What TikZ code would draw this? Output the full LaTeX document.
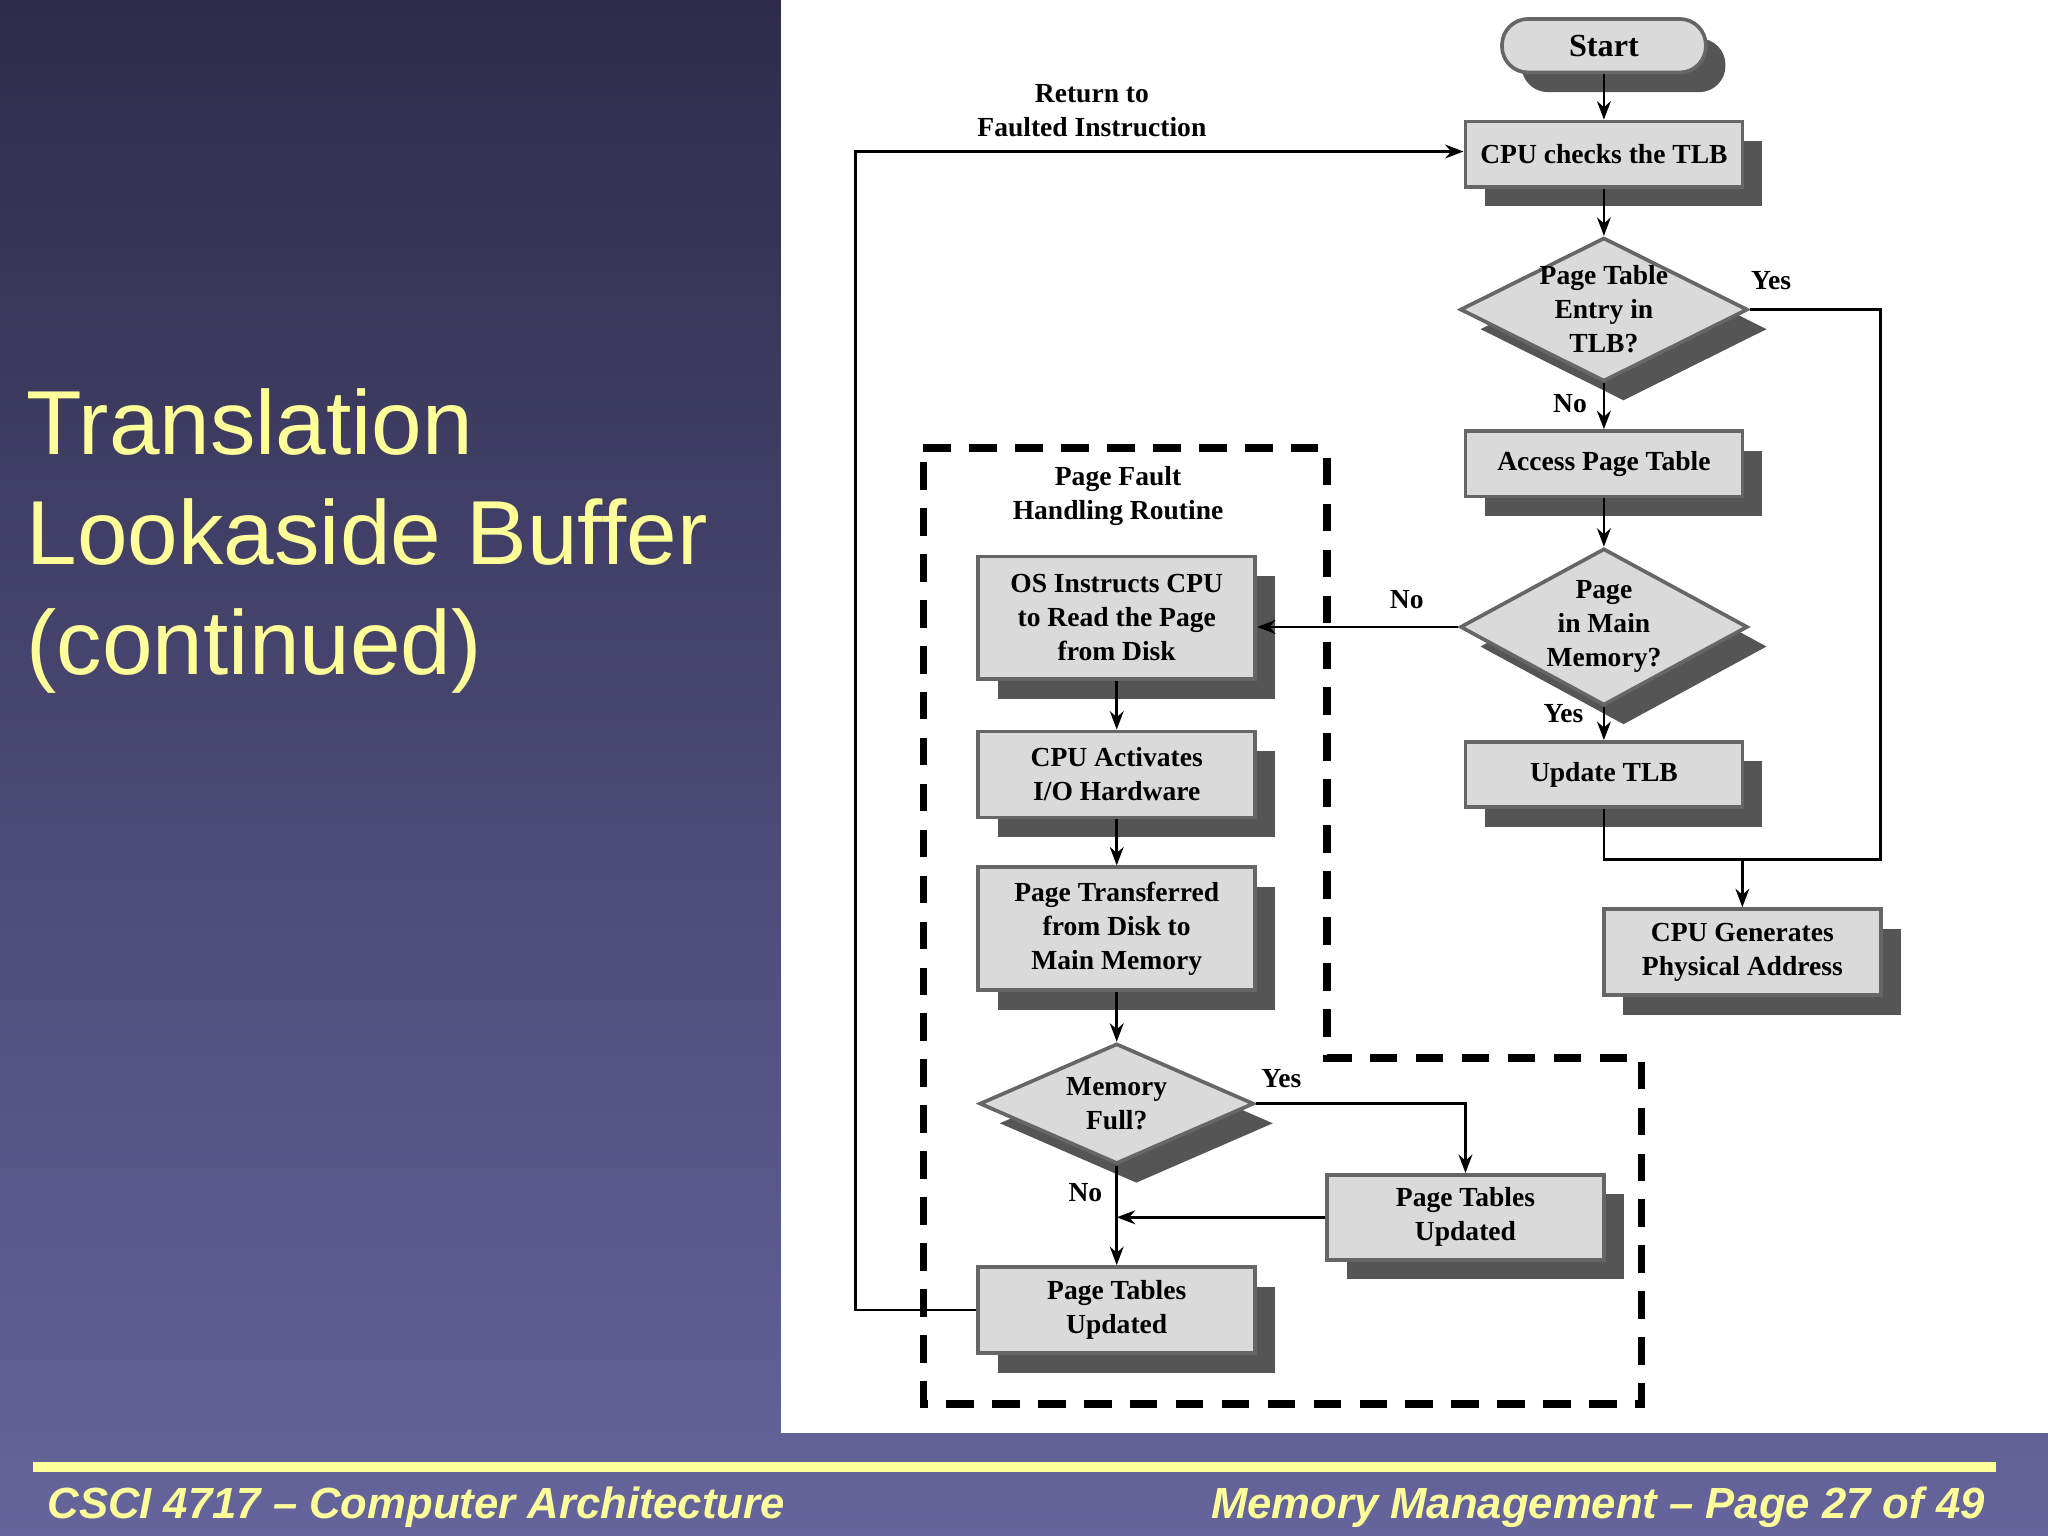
\documentclass[tikz,border=0pt]{standalone}
\usepackage{fontspec}
\setmainfont{Liberation Serif}
\newfontfamily\sans{Liberation Sans}
\usetikzlibrary{shapes.geometric,shadows,arrows.meta}
\definecolor{ttl}{HTML}{FFFF99}
\definecolor{bgtop}{HTML}{2E2C4A}
\definecolor{bgbot}{HTML}{65649C}
\definecolor{boxf}{HTML}{DADADA}
\definecolor{shd}{HTML}{555555}
\begin{document}
\begin{tikzpicture}[x=0.01cm,y=-0.01cm,
  font=\fontsize{6}{7.4}\selectfont\bfseries,
  sh/.style={drop shadow={shadow xshift=0.15cm,shadow yshift=-0.15cm,fill=shd,opacity=1}},
  box/.style={draw=gray!80!black,fill=boxf,line width=0.8pt,sh,align=center,inner sep=0pt,minimum width=2.12cm},
  dia/.style={diamond,draw=gray!80!black,fill=boxf,line width=0.8pt,sh,align=center,aspect=2,inner sep=-2.5pt},
  ar/.style={-{Stealth[length=4pt,width=3pt]},line width=0.6pt},
  ln/.style={line width=0.6pt},
  lab/.style={inner sep=1pt}]
\useasboundingbox (0,0) rectangle (1568,1176);
\shade[top color=bgtop,bottom color=bgbot] (0,0) rectangle (1568,1176);
\fill[white] (598,0) rectangle (1568,1097);
\fill[ttl] (25,1119) rectangle (1528,1127);
\node[anchor=west,text=ttl,font=\sans\fontsize{9.5}{11}\selectfont\bfseries\itshape] (f1) at (24,1154) {CSCI 4717 – Computer Architecture};
\node[anchor=east,text=ttl,font=\sans\fontsize{9.5}{11}\selectfont\bfseries\itshape] (f2) at (1532,1154) {Memory Management – Page 27 of 49};
\node[anchor=north west,text=ttl,align=left,font=\sans\fontsize{19.8}{24}\selectfont] (t) at (8,285) {Translation\\Lookaside Buffer\\(continued)};

\draw[line width=1.6pt,dash pattern=on 6pt off 4pt] (707,343)--(1016,343)--(1016,810)--(1257,810)--(1257,1075)--(707,1075)--cycle;

\node[box,rounded corners=0.2cm,minimum width=1.56cm,minimum height=0.41cm,font=\fontsize{7}{8}\selectfont\bfseries] (start) at (1228,35) {Start};
\node[box,minimum height=0.5cm] (cpu) at (1228,118) {CPU checks the TLB};
\node[dia,minimum width=2.2cm,minimum height=1.1cm] (d1) at (1228,237) {Page Table\\Entry in\\TLB?};
\node[box,minimum height=0.5cm] (acc) at (1228,355) {Access Page Table};
\node[dia,minimum width=2.2cm,minimum height=1.2cm] (d2) at (1228,480) {Page\\in Main\\Memory?};
\node[box,minimum height=0.5cm] (upd) at (1228,593) {Update TLB};
\node[box,minimum height=0.66cm] (gen) at (1334,729) {CPU Generates\\Physical Address};
\node[box,minimum height=0.94cm] (os) at (855,473) {OS Instructs CPU\\to Read the Page\\from Disk};
\node[box,minimum height=0.66cm] (io) at (855,593) {CPU Activates\\I/O Hardware};
\node[box,minimum height=0.94cm] (pt) at (855,711) {Page Transferred\\from Disk to\\Main Memory};
\node[dia,minimum width=2.1cm,minimum height=0.92cm] (mf) at (855,845) {Memory\\Full?};
\node[box,minimum height=0.65cm] (ptr) at (1122,932) {Page Tables\\Updated};
\node[box,minimum height=0.66cm] (ptb) at (855,1003) {Page Tables\\Updated};

\node[align=center] (pf) at (856,380) {Page Fault\\Handling Routine};
\node[align=center] (ret) at (836,85) {Return to\\Faulted Instruction};
\coordinate (c1) at (655,116);

\draw[ar] (start)--(cpu);
\draw[ar] (cpu)--(d1);
\draw[ar] (d1)--(acc);
\node[lab] (l1) at (1202,309) {No};
\draw[ar] (d1.east)--(1440,237)--(1440,658)--(1334,658)--(gen.north);
\node[lab] (l2) at (1356,215) {Yes};
\draw[ar] (acc)--(d2);
\draw[ar] (d2.west)--(d2.west -| os.east);
\node[lab] (l3) at (1077,459) {No};
\draw[ar] (d2)--(upd);
\node[lab] (l4) at (1197,546) {Yes};
\draw[ln] (upd.south)--(1228,658)--(1334,658);
\draw[ar] (os)--(io);
\draw[ar] (io)--(pt);
\draw[ar] (pt)--(mf);
\draw[ar] (mf)--(ptb);
\node[lab] (l5) at (831,913) {No};
\draw[ar] (mf.east)--(1122,845)--(ptr.north);
\node[lab] (l6) at (981,826) {Yes};
\draw[ar] (ptr.west)--(855,932);
\draw[ar] (ptb.west)--(ptb.west -| c1)--(c1)--(cpu.west |- c1);
\end{tikzpicture}
\end{document}
